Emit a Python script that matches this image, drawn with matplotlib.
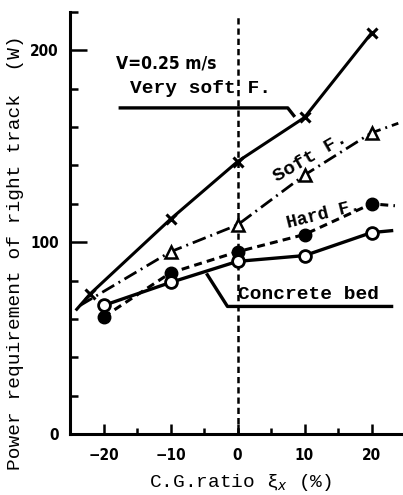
import matplotlib
matplotlib.use("Agg")
import matplotlib.pyplot as plt
from matplotlib.ticker import MultipleLocator, FixedLocator

# C.G. ratio (%) and power requirement of right track (W)
cg = [-20, -10, 0, 10, 20]

vsoft_x = [-22, -10, 0, 10, 20]
vsoft_y = [73, 112, 142, 165, 209]
soft_x = [-10, 0, 10, 20]
soft_y = [95, 109, 135, 157]
hard_y = [61, 84, 95, 104, 120]
concrete_y = [67, 79, 90, 93, 105]

# line ends drawn past the measured points
vsoft_line_x = [-24] + vsoft_x
vsoft_line_y = [65] + vsoft_y
soft_line_x = [-23.5] + soft_x + [24]
soft_line_y = [67] + soft_y + [162]
hard_line_x = cg + [23.5]
hard_line_y = hard_y + [119]
concrete_line_x = cg + [23]
concrete_line_y = concrete_y + [106]

mono = ['Liberation Mono', 'DejaVu Sans Mono']
narrow = ['Liberation Sans Narrow', 'DejaVu Sans']

fig = plt.figure(figsize=(4.03, 4.95), dpi=100)
ax = fig.add_axes([70/403, 61/495, 335/403, 422/495])

ax.axvline(0, ymax=0.99, color='black', lw=1.8, ls=(0, (2.5, 1.6)), zorder=1)

ax.plot(vsoft_line_x, vsoft_line_y, color='black', lw=2.2, zorder=2)
ax.plot(vsoft_x, vsoft_y, ls='none', marker='x', ms=7, mew=2.2, color='black', zorder=3)

ax.plot(soft_line_x, soft_line_y, color='black', lw=2.0, ls=(0, (5, 1.8, 0.7, 1.8)), zorder=2)
ax.plot(soft_x, soft_y, ls='none', marker='^', ms=9, mew=1.8, mfc='white', mec='black', zorder=3)

ax.plot(hard_line_x, hard_line_y, color='black', lw=2.2, ls=(0, (2.6, 1.7)), zorder=2)
ax.plot(cg, hard_y, ls='none', marker='o', ms=9, color='black', zorder=3)

ax.plot(concrete_line_x, concrete_line_y, color='black', lw=2.4, zorder=2)
ax.plot(cg, concrete_y, ls='none', marker='o', ms=8.5, mew=2, mfc='white', mec='black', zorder=4)

# labels and leader lines
ax.text(-18.2, 193, 'V=0.25 m/s', family=narrow, weight='bold', fontsize=12.5,
        fontstretch='condensed', ha='left', va='center')
ax.text(-16, 180, 'Very soft F.', family=mono, weight='bold', fontsize=14, ha='left', va='center')
ax.plot([-17.5, 7.5, 8.4], [170, 170, 166], color='black', lw=2.4)
ax.text(10.9, 144, 'Soft F.', family=mono, weight='bold', fontsize=14, rotation=30, ha='center', va='center')
ax.text(12.8, 114.5, 'Hard F.', family=mono, weight='bold', fontsize=13, rotation=14, ha='center', va='center')
ax.text(10.6, 72.5, 'Concrete bed', family=mono, weight='bold', fontsize=14, ha='center', va='center')
ax.plot([-4.5, -1.5, 23], [83, 66.5, 66.5], color='black', lw=2.4)

ax.set_xlim(-25, 25)
ax.set_ylim(0, 220)

for side in ['top', 'right']:
    ax.spines[side].set_visible(False)
for side in ['left', 'bottom']:
    ax.spines[side].set_linewidth(2.2)

ax.xaxis.set_major_locator(FixedLocator([-20, -10, 0, 10, 20]))
ax.xaxis.set_minor_locator(MultipleLocator(5))
ax.yaxis.set_major_locator(FixedLocator([0, 100, 200]))
ax.yaxis.set_minor_locator(MultipleLocator(20))
ax.tick_params(axis='x', which='major', direction='in', length=7, width=1.8, pad=10)
ax.tick_params(axis='x', which='minor', direction='in', length=4.5, width=1.8)
ax.tick_params(axis='y', which='major', direction='in', length=12, width=1.8, pad=8)
ax.tick_params(axis='y', which='minor', direction='in', length=6, width=1.8)
for lab in ax.get_xticklabels() + ax.get_yticklabels():
    lab.set_family(narrow)
    lab.set_weight('bold')
    lab.set_stretch('condensed')
    lab.set_fontsize(11)

ax.set_xlabel('C.G.ratio ξ$_x$ (%)', family=mono, fontsize=14, va='center', ha='center')
ax.xaxis.set_label_coords(0.51, -0.114)
ax.set_ylabel('Power requirement of right track  (W)', family=mono, fontsize=14, va='center', ha='center')
ax.yaxis.set_label_coords(-0.164, 0.429)

fig.savefig('out.png', dpi=100)
